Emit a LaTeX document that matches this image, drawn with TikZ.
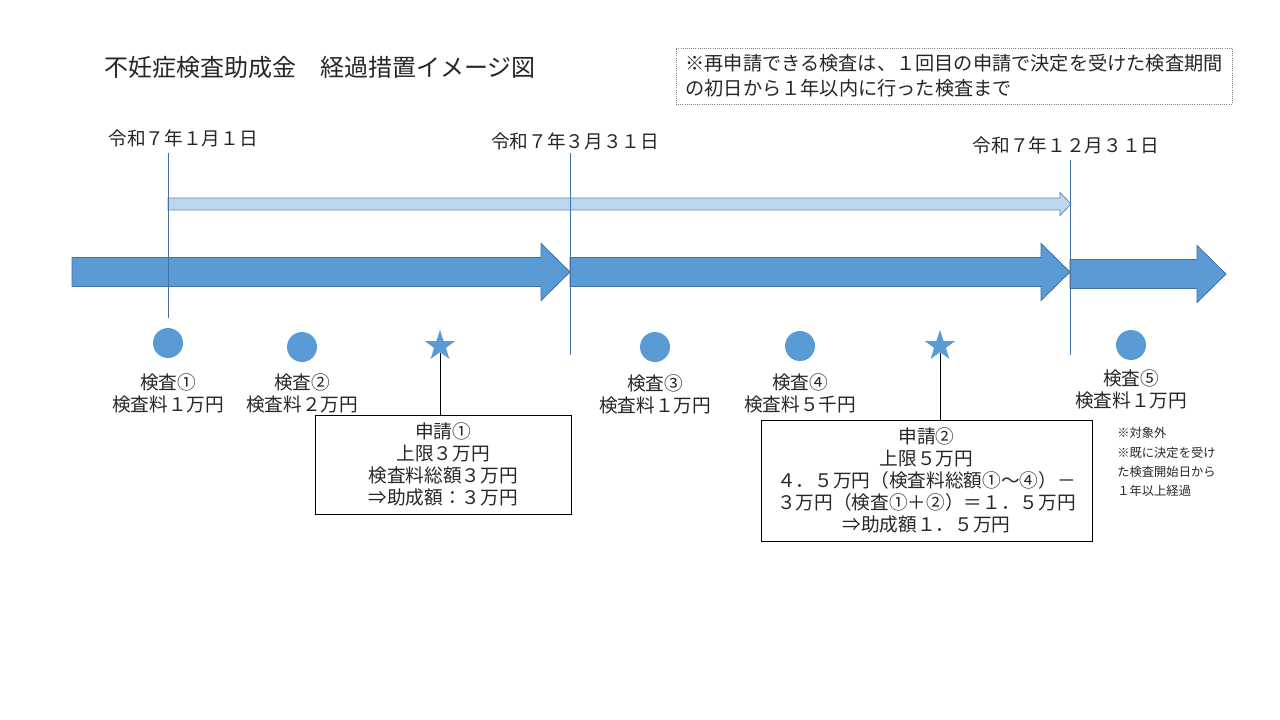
\documentclass[tikz,border=0pt]{standalone}
\usepackage{fontspec}
\setmainfont{Noto Sans CJK JP}
\usepackage{xcolor}
\usetikzlibrary{positioning}
\usetikzlibrary{shapes.geometric}
\definecolor{mainblue}{HTML}{5B9BD5}
\definecolor{edgeblue}{HTML}{41719C}
\definecolor{paleblue}{HTML}{BDD7EE}
\definecolor{inkgray}{HTML}{262626}

\begin{document}
\begin{tikzpicture}[x=0.75pt,y=-0.75pt,semithick,node distance=9pt,text=inkgray]
	\tikzstyle{dot}=[circle, fill=mainblue, inner sep=0pt, minimum size=22.5pt]
	\tikzstyle{starmark}=[star, star points=5, star point ratio=2.6, fill=mainblue, inner sep=0pt, minimum size=24pt]
	\tikzstyle{lbl}=[align=center, inner sep=0pt, font=\fontsize{14}{16.5}\selectfont]
	\tikzstyle{sumbox}=[draw=black, line width=0.75pt, align=center, inner sep=0pt, font=\fontsize{14}{16.5}\selectfont]
	\tikzstyle{dayline}=[edgeblue, line width=0.6pt]
	\tikzstyle{bigarrow}=[draw=edgeblue, fill=mainblue, line width=0.6pt]
	\useasboundingbox (0,0) rectangle (1280,720);

	% title and note
	\node[anchor=west, inner sep=0pt, font=\fontsize{18}{20}\selectfont] (title) at (104,67) {不妊症検査助成金　経過措置イメージ図};
	\node[draw=gray, densely dotted, line width=0.6pt, align=left, inner sep=0pt, minimum width=417pt, minimum height=42pt, font=\fontsize{14.4}{18.75}\selectfont] (note) at (954,76) {※再申請できる検査は、１回目の申請で決定を受けた検査期間\\の初日から１年以内に行った検査まで};

	% dates
	\node[lbl] (d1) at (183,138) {令和７年１月１日};
	\node[lbl] (d2) at (575,141) {令和７年３月３１日};
	\node[lbl] (d3) at (1066,145) {令和７年１２月３１日};

	% periods
	\draw[draw=edgeblue!80, fill=paleblue, line width=0.6pt] (168,198) -- (1060,198) -- (1060,192.5) -- (1071,204) -- (1060,215.5) -- (1060,210) -- (168,210) -- cycle;
	\foreach \a/\b/\m in {72/570/272, 570/1070/272, 1070/1226/274}{
		\draw[bigarrow] (\a,\m-14.5) -- (\b-29,\m-14.5) -- (\b-29,\m-28.5) -- (\b,\m) -- (\b-29,\m+28.5) -- (\b-29,\m+14.5) -- (\a,\m+14.5) -- cycle;
		}
	\draw[dayline] (168,153) -- (168,318);
	\draw[dayline] (570,153) -- (570,355);
	\draw[dayline] (1070,160) -- (1070,355);

	% tests and applications
	\node[dot] (c1) at (168,343) {};
	\node[dot] (c2) at (302,347) {};
	\node[starmark] (s1) at (440,346) {};
	\node[dot] (c3) at (655,347) {};
	\node[dot] (c4) at (800,346) {};
	\node[starmark] (s2) at (940,346) {};
	\node[dot] (c5) at (1131,345) {};

	\node[lbl] (l1) [below=11pt of c1] {検査①\\検査料１万円};
	\node[lbl] (l2) [below=8pt of c2] {検査②\\検査料２万円};
	\node[lbl] (l3) [below=of c3] {検査③\\検査料１万円};
	\node[lbl] (l4) [below=of c4] {検査④\\検査料５千円};
	\node[lbl] (l5) [below=7pt of c5] {検査⑤\\検査料１万円};

	\node[sumbox, minimum width=192pt, minimum height=74.25pt] (b1) at (443,464.5) {申請①\\上限３万円\\検査料総額３万円\\⇒助成額：３万円};
	\node[sumbox, minimum width=248.25pt, minimum height=90.75pt] (b2) at (926.5,480.5) {申請②\\上限５万円\\４．５万円（検査料総額①～④）－\\３万円（検査①＋②）＝１．５万円\\⇒助成額１．５万円};
	\draw[line width=0.75pt] (s1) -- (s1 |- b1.north);
	\draw[line width=0.75pt] (s2) -- (s2 |- b2.north);

	\node[anchor=north west, align=left, inner sep=0pt, font=\fontsize{9.2}{14.5}\selectfont] (excl) at (1117,427) {※対象外\\※既に決定を受け\\た検査開始日から\\１年以上経過};
\end{tikzpicture}
\end{document}
